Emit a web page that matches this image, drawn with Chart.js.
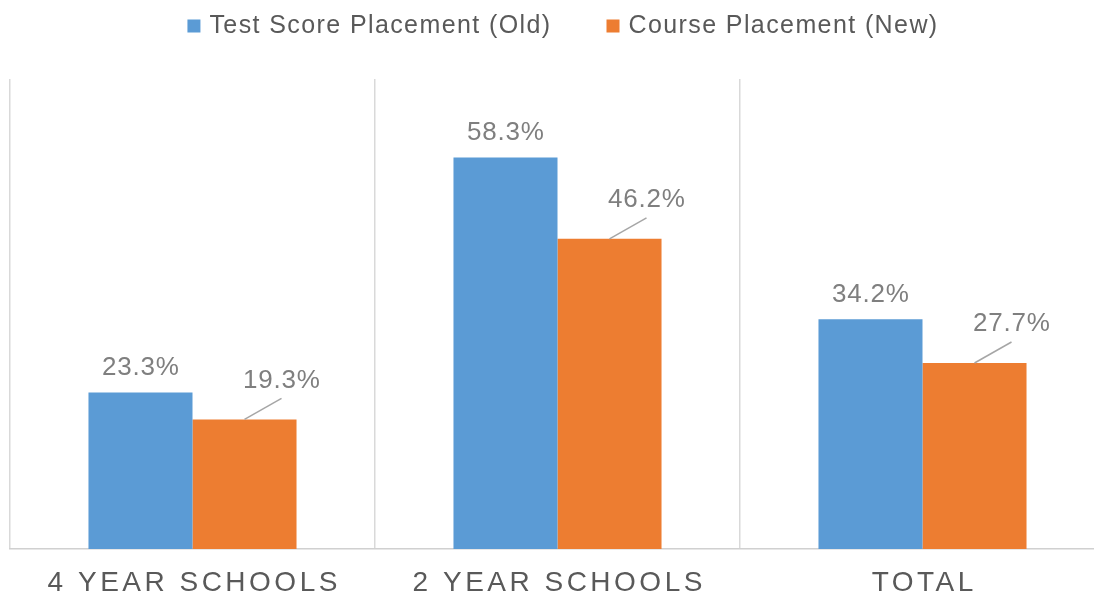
<!DOCTYPE html>
<html>
<head>
<meta charset="utf-8">
<script src="https://cdn.jsdelivr.net/npm/chart.js@4.4.0/dist/chart.umd.min.js"></script>
<style>
  html, body { margin: 0; padding: 0; background: #fff; overflow: hidden; }
  #wrap { width: 1115px; height: 597px; position: relative; }
</style>
</head>
<body>
<div id="wrap"><canvas id="placementChart"></canvas></div>
<script>
// chart values
const categories = ['4 YEAR SCHOOLS', '2 YEAR SCHOOLS', 'TOTAL'];
const seriesNames = ['Test Score Placement (Old)', 'Course Placement (New)'];
const oldPlacement = [23.3, 58.3, 34.2];
const newPlacement = [19.3, 46.2, 27.7];

const BLUE = '#5B9BD5';
const ORANGE = '#ED7D31';
const FONT = '"Liberation Sans", Arial, sans-serif';

// legend drawn by hand so the gap between items can match
const topLegend = {
    id: 'topLegend',
    afterDraw(chart) {
        const ctx = chart.ctx;
        ctx.save();
        ctx.font = '25px ' + FONT;
        ctx.letterSpacing = '1.4px';
        ctx.textBaseline = 'middle';
        ctx.fillStyle = '#595959';
        const box = 13, gapText = 9, gapItem = 55;
        const items = chart.data.datasets.map(ds => ({
            text: ds.label, color: ds.backgroundColor, w: ctx.measureText(ds.label).width
        }));
        let total = 0;
        items.forEach((it, i) => { total += box + gapText + it.w + (i ? gapItem : 0); });
        let x = 563 - total / 2;
        const y = 26;
        items.forEach(it => {
            ctx.fillStyle = it.color;
            ctx.fillRect(x, y - box / 2, box, box);
            x += box + gapText;
            ctx.fillStyle = '#595959';
            ctx.textAlign = 'left';
            ctx.fillText(it.text, x, y);
            x += it.w + gapItem;
        });
        ctx.restore();
    }
};

// category labels under the axis, spaced out like the original
const catLabels = {
    id: 'catLabels',
    afterDraw(chart) {
        const ctx = chart.ctx;
        const xs = chart.scales.x;
        ctx.save();
        ctx.font = '28px ' + FONT;
        ctx.letterSpacing = '3.5px';
        ctx.textAlign = 'center';
        ctx.textBaseline = 'middle';
        ctx.fillStyle = '#595959';
        categories.forEach((c, i) => {
            ctx.fillText(c, xs.getPixelForValue(i) + 1.75, 583);
        });
        ctx.restore();
    }
};

// value labels; the orange ones sit up-right with a leader line
const valueLabels = {
    id: 'valueLabels',
    afterDatasetsDraw(chart) {
        const ctx = chart.ctx;
        ctx.save();
        ctx.font = '26px ' + FONT;
        ctx.letterSpacing = '0.8px';
        ctx.textAlign = 'center';
        ctx.textBaseline = 'middle';
        chart.data.datasets.forEach((ds, di) => {
            const meta = chart.getDatasetMeta(di);
            meta.data.forEach((bar, i) => {
                const txt = ds.data[i].toFixed(1) + '%';
                ctx.fillStyle = '#7f7f7f';
                if (di === 0) {
                    ctx.fillText(txt, bar.x + 0.4, bar.y - 25);
                } else {
                    ctx.strokeStyle = '#a6a6a6';
                    ctx.lineWidth = 1.5;
                    ctx.beginPath();
                    ctx.moveTo(bar.x, bar.y);
                    ctx.lineTo(bar.x + 37, bar.y - 21);
                    ctx.stroke();
                    ctx.fillText(txt, bar.x + 37.4, bar.y - 39);
                }
            });
        });
        ctx.restore();
    }
};

const ctx = document.getElementById('placementChart').getContext('2d');
const placementChart = new Chart(ctx, {
    type: 'bar',
    data: {
        labels: categories,
        datasets: [{
            label: seriesNames[0],
            data: oldPlacement,
            backgroundColor: BLUE,
            borderWidth: 0
        }, {
            label: seriesNames[1],
            data: newPlacement,
            backgroundColor: ORANGE,
            borderWidth: 0
        }]
    },
    options: {
        responsive: true,
        maintainAspectRatio: false,
        animation: false,
        layout: {
            padding: { top: 79, left: 10, right: 10, bottom: 48 }
        },
        plugins: {
            legend: { display: false },
            tooltip: { enabled: false }
        },
        datasets: {
            bar: { categoryPercentage: 0.57, barPercentage: 1 }
        },
        scales: {
            x: {
                offset: true,
                grid: { display: true, offset: true, color: '#d9d9d9', lineWidth: 1.5, drawTicks: false },
                border: { display: true, color: '#d0d0d0', width: 1.5 },
                ticks: { display: false }
            },
            y: {
                display: false,
                min: 0,
                max: 70
            }
        }
    },
    plugins: [topLegend, catLabels, valueLabels]
});
</script>
</body>
</html>
